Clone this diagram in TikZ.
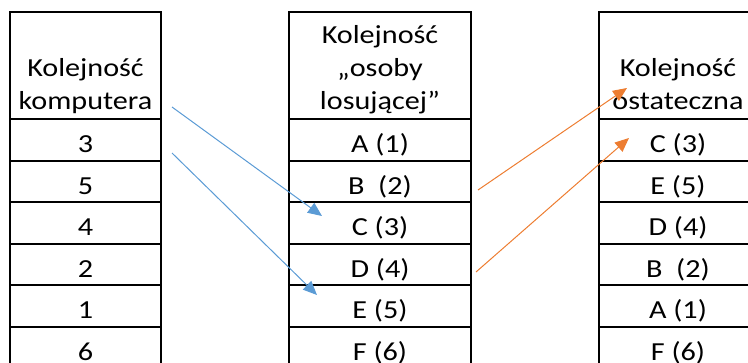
\documentclass[tikz,border=0pt]{standalone}
\usepackage{fontspec}
\setmainfont{Carlito}[FakeStretch=1.16]
\usetikzlibrary{arrows.meta,positioning}
\definecolor{arrblue}{HTML}{5B9BD5}
\definecolor{arrorange}{HTML}{ED7D31}
\begin{document}
\begin{tikzpicture}[x=1pt,y=-1pt,font=\fontsize{26}{33}\selectfont,
  cell/.style={draw,line width=2pt,inner sep=0pt,minimum width=#1,minimum height=41.5pt,text height=27pt,text depth=2pt},
  headcell/.style={draw,line width=2pt,inner sep=0pt,minimum width=#1,minimum height=107pt},
  headtext/.style={anchor=south,align=center,inner sep=0pt,text depth=10pt},
  link/.style={line width=1pt,-{Triangle[length=14pt,width=12pt]}}]
\useasboundingbox (0,0) rectangle (748,362);
\clip (0,0) rectangle (748,362);
% computer order
\node[headcell=151pt] (hk) at (85.5,65.5) {};
\node[headtext] (hkt) at (hk.south) {Kolejność\\komputera};
\foreach \v [count=\i] in {3,5,4,2,1,6}
  \node[cell=151pt] (k\i) at (85.5,98.5+41.5*\i) {\v};
% drawing person order
\node[headcell=182pt] (hl) at (380,65.5) {};
\node[headtext] (hlt) at (hl.south) {Kolejność\\„osoby\\losującej”};
\foreach \v [count=\i] in {A (1),{B\ \ (2)},C (3),D (4),E (5),F (6)}
  \node[cell=182pt] (l\i) at (380,98.5+41.5*\i) {\v};
% final order
\node[headcell=158pt] (ho) at (678,65.5) {};
\node[headtext] (hot) at (ho.south) {Kolejność\\ostateczna};
\foreach \v [count=\i] in {C (3),E (5),D (4),{B\ \ (2)},A (1),F (6)}
  \node[cell=158pt] (o\i) at (678,98.5+41.5*\i) {\v};
% arrows
\coordinate (b1s) at (172,107);
\coordinate (b1e) at (322,216);
\coordinate (b2s) at (172,153);
\coordinate (b2e) at (317,295);
\coordinate (r1s) at (478,190);
\coordinate (r1e) at (627,88);
\coordinate (r2s) at (476,272);
\coordinate (r2e) at (629,138);
\draw[link,arrblue] (b1s) -- (b1e);
\draw[link,arrblue] (b2s) -- (b2e);
\draw[link,arrorange] (r1s) -- (r1e);
\draw[link,arrorange] (r2s) -- (r2e);
\end{tikzpicture}
\end{document}
